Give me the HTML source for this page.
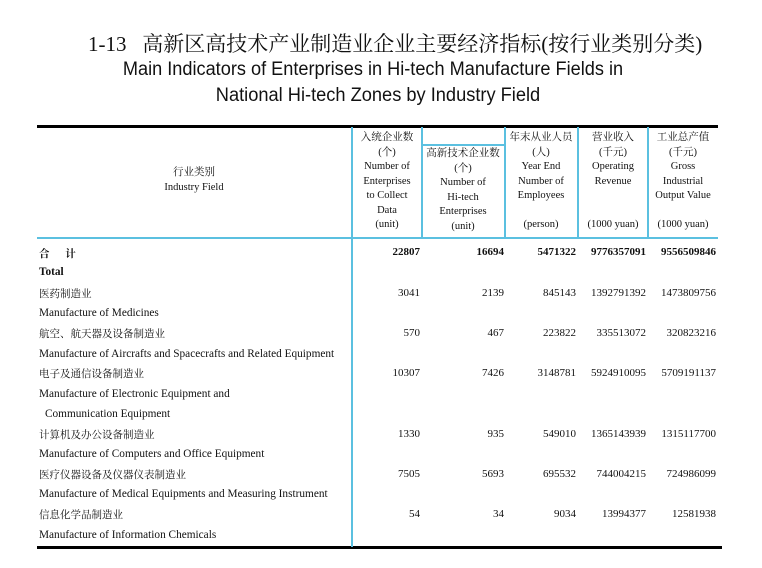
<!DOCTYPE html>
<html><head><meta charset="utf-8"><style>
body{margin:0;width:762px;height:568px;background:#fff;position:relative;overflow:hidden;font-family:"Liberation Serif","Noto Serif CJK SC",serif;color:#111}
.a{position:absolute;white-space:nowrap}
.t{font-size:11.3px;line-height:13px}
.c{text-align:center;transform:translateX(-50%)}
.h{font-size:10.5px;line-height:14.5px;text-align:center;position:absolute;white-space:nowrap;transform:translateX(-50%)}
.ln{position:absolute;background:#5bc0e0}
.n{position:absolute;font-size:11px;transform:translateX(-100%)}
.b{font-weight:bold}
.cj{font-family:"Noto Serif CJK SC","Liberation Serif",serif;font-size:10.5px}
</style></head><body>
<div class="a" style="left:88px;top:28px;font-size:21px;font-family:'Liberation Serif','Noto Serif CJK SC',serif">1-13&nbsp;&nbsp; 高新区高技术产业制造业企业主要经济指标(按行业类别分类)</div>
<div class="a c" style="left:373px;top:59px;font-size:19px;font-family:'Liberation Sans Narrow','Liberation Sans',sans-serif;transform:translateX(-50%) scaleX(0.955)">Main Indicators of Enterprises in Hi-tech Manufacture Fields in</div>
<div class="a c" style="left:378px;top:85px;font-size:19px;font-family:'Liberation Sans Narrow','Liberation Sans',sans-serif;transform:translateX(-50%) scaleX(0.96)">National Hi-tech Zones by Industry Field</div>

<div style="position:absolute;left:37px;top:125px;width:681px;height:3px;background:#000"></div>
<div style="position:absolute;left:37px;top:546px;width:685px;height:3px;background:#000"></div>
<div class="ln" style="left:37px;top:237px;width:681px;height:2px"></div>
<div class="ln" style="left:351px;top:127px;width:2px;height:420px"></div>
<div class="ln" style="left:421px;top:127px;width:2px;height:111px"></div>
<div class="ln" style="left:504px;top:127px;width:2px;height:111px"></div>
<div class="ln" style="left:577px;top:127px;width:2px;height:111px"></div>
<div class="ln" style="left:647px;top:127px;width:2px;height:111px"></div>
<div class="ln" style="left:421px;top:144px;width:84px;height:2px"></div>

<div class="h" style="left:194px;top:166px">行业类别<br>Industry Field</div>
<div class="h" style="left:387px;top:131px">入统企业数<br>(个)<br>Number of<br>Enterprises<br>to Collect<br>Data<br>(unit)</div>
<div class="h" style="left:463px;top:147px">高新技术企业数<br>(个)<br>Number of<br>Hi-tech<br>Enterprises<br>(unit)</div>
<div class="h" style="left:541px;top:131px">年末从业人员<br>(人)<br>Year End<br>Number of<br>Employees<br><br>(person)</div>
<div class="h" style="left:613px;top:131px">营业收入<br>(千元)<br>Operating<br>Revenue<br><br><br>(1000 yuan)</div>
<div class="h" style="left:683px;top:131px">工业总产值<br>(千元)<br>Gross<br>Industrial<br>Output Value<br><br>(1000 yuan)</div>

<div class="a cj b" style="left:39px;top:246px">合&nbsp;&nbsp;&nbsp;&nbsp;&nbsp;&nbsp;计</div>
<div class="a t b" style="left:39px;top:266px">Total</div>
<div class="a cj" style="left:39px;top:286px">医药制造业</div>
<div class="a t" style="left:39px;top:307px">Manufacture of Medicines</div>
<div class="a cj" style="left:39px;top:326px">航空、航天器及设备制造业</div>
<div class="a t" style="left:39px;top:348px">Manufacture of Aircrafts and Spacecrafts  and Related Equipment</div>
<div class="a cj" style="left:39px;top:366px">电子及通信设备制造业</div>
<div class="a t" style="left:39px;top:388px">Manufacture of Electronic Equipment and</div>
<div class="a t" style="left:45px;top:408px">Communication Equipment</div>
<div class="a cj" style="left:39px;top:427px">计算机及办公设备制造业</div>
<div class="a t" style="left:39px;top:448px">Manufacture of Computers and Office Equipment</div>
<div class="a cj" style="left:39px;top:467px">医疗仪器设备及仪器仪表制造业</div>
<div class="a t" style="left:39px;top:488px">Manufacture of Medical Equipments and Measuring Instrument</div>
<div class="a cj" style="left:39px;top:507px">信息化学品制造业</div>
<div class="a t" style="left:39px;top:529px">Manufacture of Information Chemicals</div>

<div class="n b" style="left:420px;top:246px">22807</div>
<div class="n b" style="left:504px;top:246px">16694</div>
<div class="n b" style="left:576px;top:246px">5471322</div>
<div class="n b" style="left:646px;top:246px">9776357091</div>
<div class="n b" style="left:716px;top:246px">9556509846</div>

<div class="n" style="left:420px;top:287px">3041</div>
<div class="n" style="left:504px;top:287px">2139</div>
<div class="n" style="left:576px;top:287px">845143</div>
<div class="n" style="left:646px;top:287px">1392791392</div>
<div class="n" style="left:716px;top:287px">1473809756</div>

<div class="n" style="left:420px;top:327px">570</div>
<div class="n" style="left:504px;top:327px">467</div>
<div class="n" style="left:576px;top:327px">223822</div>
<div class="n" style="left:646px;top:327px">335513072</div>
<div class="n" style="left:716px;top:327px">320823216</div>

<div class="n" style="left:420px;top:367px">10307</div>
<div class="n" style="left:504px;top:367px">7426</div>
<div class="n" style="left:576px;top:367px">3148781</div>
<div class="n" style="left:646px;top:367px">5924910095</div>
<div class="n" style="left:716px;top:367px">5709191137</div>

<div class="n" style="left:420px;top:428px">1330</div>
<div class="n" style="left:504px;top:428px">935</div>
<div class="n" style="left:576px;top:428px">549010</div>
<div class="n" style="left:646px;top:428px">1365143939</div>
<div class="n" style="left:716px;top:428px">1315117700</div>

<div class="n" style="left:420px;top:468px">7505</div>
<div class="n" style="left:504px;top:468px">5693</div>
<div class="n" style="left:576px;top:468px">695532</div>
<div class="n" style="left:646px;top:468px">744004215</div>
<div class="n" style="left:716px;top:468px">724986099</div>

<div class="n" style="left:420px;top:508px">54</div>
<div class="n" style="left:504px;top:508px">34</div>
<div class="n" style="left:576px;top:508px">9034</div>
<div class="n" style="left:646px;top:508px">13994377</div>
<div class="n" style="left:716px;top:508px">12581938</div>
</body></html>
